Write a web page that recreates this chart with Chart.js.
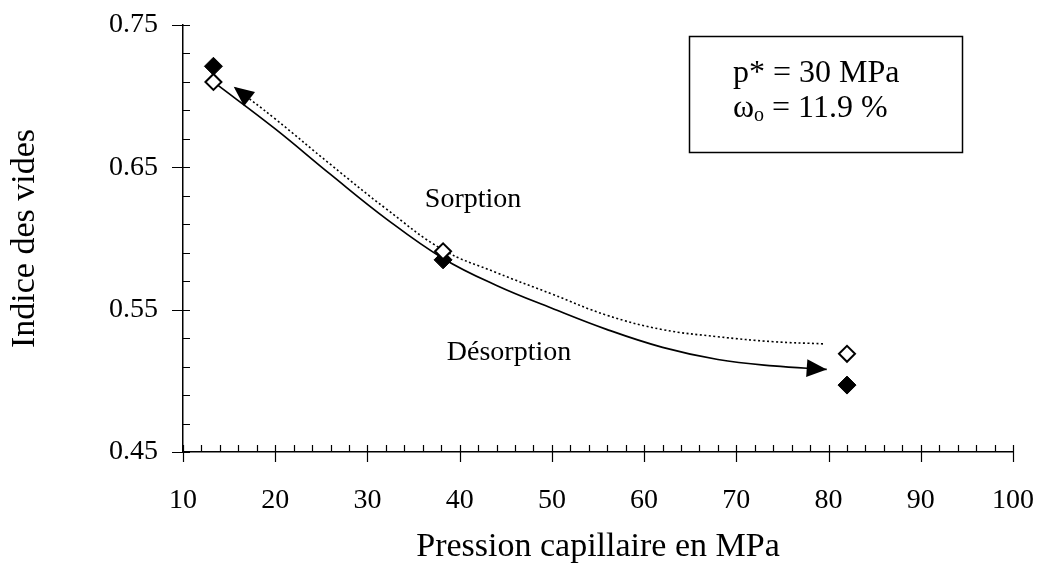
<!DOCTYPE html>
<html>
<head>
<meta charset="utf-8">
<script src="https://cdn.jsdelivr.net/npm/chart.js@4.4.0/dist/chart.umd.min.js"></script>
<style>
  html, body { margin: 0; padding: 0; background: #fff; }
  #wrap { width: 1037px; height: 563px; }
</style>
</head>
<body>
<div id="wrap"><canvas id="chart" width="1037" height="563"></canvas></div>
<script>
// measured points
const pression = [13.3, 38.2, 82.0];
const desorption = [0.721, 0.585, 0.497];   // filled diamonds
const sorption = [0.710, 0.591, 0.519];     // open diamonds

// hand-drawn arrows
const flecheDesX = [13.3, 20, 26, 32, 38.2, 44, 50, 56, 62, 68, 74, 79.8];
const flecheDesY = [0.710, 0.677, 0.645, 0.614, 0.586, 0.567, 0.551, 0.536, 0.5235, 0.515, 0.5105, 0.508];
const flecheSorX = [79.4, 74, 68, 62, 56, 50, 44, 38.2, 32, 26, 20, 15.5];
const flecheSorY = [0.526, 0.5275, 0.531, 0.536, 0.546, 0.561, 0.576, 0.592, 0.621, 0.652, 0.684, 0.7066];

const yTicks = [0.45, 0.55, 0.65, 0.75];

const serif = 'Liberation Serif';

function pts(xs, ys) {
    return xs.map((x, i) => ({ x: x, y: ys[i] }));
}

// arrow heads at the end of the curves
const arrowPlugin = {
    id: 'arrows',
    afterDatasetsDraw(chart) {
        const ctx = chart.ctx;
        chart.data.datasets.forEach((ds, i) => {
            if (!ds.arrow) return;
            const pts = chart.getDatasetMeta(i).data;
            const a = pts[pts.length - 2], b = pts[pts.length - 1];
            const ang = Math.atan2(b.y - a.y, b.x - a.x);
            const len = 20, half = 9;
            ctx.save();
            ctx.translate(b.x, b.y);
            ctx.rotate(ang);
            ctx.beginPath();
            ctx.moveTo(0, 0);
            ctx.lineTo(-len, -half);
            ctx.lineTo(-len, half);
            ctx.closePath();
            ctx.fillStyle = '#000';
            ctx.fill();
            ctx.restore();
        });
    }
};

// tick marks: majors cross the axis, minors inside
const tickPlugin = {
    id: 'tickMarks',
    afterDraw(chart) {
        const ctx = chart.ctx;
        const xs = chart.scales.x, ys = chart.scales.y;
        const area = chart.chartArea;
        ctx.save();
        ctx.strokeStyle = '#000';
        ctx.lineWidth = 1.2;
        ctx.beginPath();
        for (let k = 10; k <= 100; k += 2) {
            const px = Math.round(xs.getPixelForValue(k)) + 0.5;
            if (k % 10 === 0) {
                ctx.moveTo(px, area.bottom - 7);
                ctx.lineTo(px, area.bottom + 10);
            } else {
                ctx.moveTo(px, area.bottom - 7);
                ctx.lineTo(px, area.bottom);
            }
        }
        for (let k = 0; k <= 15; k++) {
            const py = Math.round(ys.getPixelForValue(0.45 + k * 0.02)) + 0.5;
            if (k % 5 === 0) {
                ctx.moveTo(area.left - 11, py);
                ctx.lineTo(area.left + 7, py);
            } else {
                ctx.moveTo(area.left, py);
                ctx.lineTo(area.left + 7, py);
            }
        }
        ctx.stroke();
        ctx.restore();
    }
};

// labels and legend box
const notesPlugin = {
    id: 'notes',
    afterDraw(chart) {
        const ctx = chart.ctx;
        const xs = chart.scales.x, ys = chart.scales.y;
        ctx.save();
        ctx.fillStyle = '#000';
        ctx.textBaseline = 'alphabetic';
        ctx.textAlign = 'center';
        ctx.font = '28px "' + serif + '"';
        ctx.fillText('Sorption', xs.getPixelForValue(41.45), ys.getPixelForValue(0.6223));
        ctx.fillText('Désorption', xs.getPixelForValue(45.35), ys.getPixelForValue(0.5146));

        // box
        const bx0 = xs.getPixelForValue(64.9), bx1 = xs.getPixelForValue(94.47);
        const by0 = ys.getPixelForValue(0.7425), by1 = ys.getPixelForValue(0.6608);
        ctx.lineWidth = 1.5;
        ctx.strokeStyle = '#000';
        ctx.strokeRect(Math.round(bx0) + 0.5, Math.round(by0) + 0.5, Math.round(bx1 - bx0), Math.round(by1 - by0));

        ctx.textAlign = 'left';
        ctx.font = '32px "' + serif + '"';
        const tx = xs.getPixelForValue(69.64);
        const l2 = ys.getPixelForValue(0.6856);
        ctx.fillText('p* = 30 MPa', tx, ys.getPixelForValue(0.7102));
        ctx.fillText('ω', tx, l2);
        const w = ctx.measureText('ω').width;
        ctx.font = '20px "' + serif + '"';
        ctx.fillText('o', tx + w, l2 + 4);
        const w2 = ctx.measureText('o').width;
        ctx.font = '32px "' + serif + '"';
        ctx.fillText(' = 11.9 %', tx + w + w2, l2);
        ctx.restore();
    }
};

new Chart(document.getElementById('chart'), {
    type: 'scatter',
    data: {
        datasets: [
            {
                label: 'Désorption',
                data: pts(pression, desorption),
                pointStyle: 'rectRot',
                pointRadius: 9,
                backgroundColor: '#000',
                borderColor: '#000',
                borderWidth: 1,
                order: 1
            },
            {
                label: 'Sorption',
                data: pts(pression, sorption),
                pointStyle: 'rectRot',
                pointRadius: 8,
                backgroundColor: '#fff',
                borderColor: '#000',
                borderWidth: 2,
                order: 0
            },
            {
                label: 'courbe désorption',
                type: 'line',
                data: pts(flecheDesX, flecheDesY),
                borderColor: '#000',
                borderWidth: 1.7,
                pointRadius: 0,
                tension: 0.4,
                fill: false,
                arrow: true,
                order: 3
            },
            {
                label: 'courbe sorption',
                type: 'line',
                data: pts(flecheSorX, flecheSorY),
                borderColor: '#000',
                borderWidth: 1.6,
                borderDash: [2, 2.5],
                pointRadius: 0,
                tension: 0.4,
                fill: false,
                arrow: true,
                order: 4
            }
        ]
    },
    options: {
        responsive: false,
        animation: false,
        devicePixelRatio: 1,
        layout: { padding: { top: 25, right: 24, left: 0, bottom: 0 } },
        plugins: {
            legend: { display: false },
            tooltip: { enabled: false }
        },
        scales: {
            x: {
                type: 'linear',
                min: 10,
                max: 100,
                grid: { display: false, drawTicks: false },
                border: { display: true, color: '#000', width: 1.5 },
                ticks: {
                    stepSize: 10,
                    color: '#000',
                    padding: 32,
                    font: { family: serif, size: 28 }
                },
                title: {
                    display: true,
                    text: 'Pression capillaire en MPa',
                    color: '#000',
                    font: { family: serif, size: 34 },
                    padding: { top: 0, bottom: -4 }
                },
                afterFit(scale) {
                    scale.height = 111;
                    scale.paddingLeft = 0;
                    scale.paddingRight = 0;
                }
            },
            y: {
                type: 'linear',
                min: 0.45,
                max: 0.75,
                grid: { display: false, drawTicks: false },
                border: { display: true, color: '#000', width: 1.5 },
                afterBuildTicks(scale) {
                    scale.ticks = yTicks.map(v => ({ value: v }));
                },
                ticks: {
                    color: '#000',
                    padding: 25,
                    font: { family: serif, size: 28 },
                    callback: v => v.toFixed(2)
                },
                title: {
                    display: true,
                    text: 'Indice des vides',
                    color: '#000',
                    font: { family: serif, size: 34 },
                    padding: { top: 5, bottom: 0 }
                },
                afterFit(scale) {
                    scale.width = 183;
                    scale.paddingTop = 0;
                    scale.paddingBottom = 0;
                }
            }
        }
    },
    plugins: [arrowPlugin, tickPlugin, notesPlugin]
});
</script>
</body>
</html>
